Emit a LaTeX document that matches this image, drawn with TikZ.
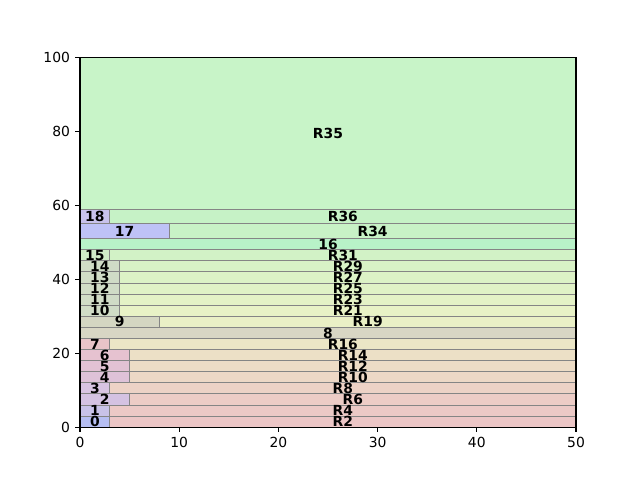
\documentclass[tikz,border=0pt]{standalone}
\usepackage{fontspec}
\setmainfont{DejaVu Sans}
\definecolor{edgec}{HTML}{858585}
\definecolor{Lzero}{HTML}{B6BEF2}
\definecolor{Lone}{HTML}{C8C2E8}
\definecolor{Ltwo}{HTML}{D4C2E2}
\definecolor{Lthree}{HTML}{D8C4E2}
\definecolor{Lfour}{HTML}{DEC2D8}
\definecolor{Lfive}{HTML}{E2C2D4}
\definecolor{Lsix}{HTML}{E6C2D0}
\definecolor{Lseven}{HTML}{E8C4C8}
\definecolor{Leight}{HTML}{D8D6C4}
\definecolor{Lnine}{HTML}{D4D6C2}
\definecolor{Lten}{HTML}{D0DCC6}
\definecolor{Lfifteen}{HTML}{D0ECC8}
\definecolor{Lsixteen}{HTML}{B8F2C8}
\definecolor{Lseventeen}{HTML}{BEC2F6}
\definecolor{Leighteen}{HTML}{C8C2EC}
\definecolor{Rtwo}{HTML}{ECC6C6}
\definecolor{Rfour}{HTML}{ECC9C6}
\definecolor{Rsix}{HTML}{EDCCC6}
\definecolor{Reight}{HTML}{EDD2C6}
\definecolor{Rten}{HTML}{EDD8C6}
\definecolor{Rtwelve}{HTML}{EDDCC6}
\definecolor{Rfourteen}{HTML}{ECE0C6}
\definecolor{Rsixteen}{HTML}{EBE6C6}
\definecolor{Rnineteen}{HTML}{EAF0C6}
\definecolor{Rtwentyone}{HTML}{E8F2C6}
\definecolor{Rtwentythree}{HTML}{E4F2C6}
\definecolor{Rtwentyfive}{HTML}{E0F2C6}
\definecolor{Rtwentyseven}{HTML}{DCF2C6}
\definecolor{Rtwentynine}{HTML}{D8F2C6}
\definecolor{Rthirtyone}{HTML}{D2F2C6}
\definecolor{Rthirtyfour}{HTML}{C8F2C6}
\definecolor{Rthirtysix}{HTML}{C6F2C6}
\definecolor{Rthirtyfive}{HTML}{C8F4C8}
\tikzset{
  box/.style={draw=edgec,line width=0.75pt},
  lab/.style={font=\fontsize{10}{12}\selectfont\bfseries,inner sep=0pt},
  ticklab/.style={font=\fontsize{10}{12}\selectfont,inner sep=0pt},
}
\begin{document}
\begin{tikzpicture}[x=1pt,y=1pt]
\useasboundingbox (0,0) rectangle (460.8,345.6);
\begin{scope}[shift={(57.6,38.016)},x=7.1424pt,y=2.66112pt]
\foreach \a/\b/\c/\d/\col/\t in {
 0/0/3/3/Lzero/0, 3/0/50/3/Rtwo/R2,
 0/3/3/6/Lone/1, 3/3/50/6/Rfour/R4,
 0/6/5/9/Ltwo/2, 5/6/50/9/Rsix/R6,
 0/9/3/12/Lthree/3, 3/9/50/12/Reight/R8,
 0/12/5/15/Lfour/4, 5/12/50/15/Rten/R10,
 0/15/5/18/Lfive/5, 5/15/50/18/Rtwelve/R12,
 0/18/5/21/Lsix/6, 5/18/50/21/Rfourteen/R14,
 0/21/3/24/Lseven/7, 3/21/50/24/Rsixteen/R16,
 0/24/50/27/Leight/8,
 0/27/8/30/Lnine/9, 8/27/50/30/Rnineteen/R19,
 0/30/4/33/Lten/10, 4/30/50/33/Rtwentyone/R21,
 0/33/4/36/Lten/11, 4/33/50/36/Rtwentythree/R23,
 0/36/4/39/Lten/12, 4/36/50/39/Rtwentyfive/R25,
 0/39/4/42/Lten/13, 4/39/50/42/Rtwentyseven/R27,
 0/42/4/45/Lten/14, 4/42/50/45/Rtwentynine/R29,
 0/45/3/48/Lfifteen/15, 3/45/50/48/Rthirtyone/R31,
 0/48/50/51/Lsixteen/16,
 0/51/9/55/Lseventeen/17, 9/51/50/55/Rthirtyfour/R34,
 0/55/3/59/Leighteen/18, 3/55/50/59/Rthirtysix/R36,
 0/59/50/100/Rthirtyfive/R35}
 {\path[box,fill=\col] (\a,\b) rectangle (\c,\d);}
\foreach \a/\b/\c/\d/\t in {
 0/0/3/3/0, 3/0/50/3/R2, 0/3/3/6/1, 3/3/50/6/R4,
 0/6/5/9/2, 5/6/50/9/R6, 0/9/3/12/3, 3/9/50/12/R8,
 0/12/5/15/4, 5/12/50/15/R10, 0/15/5/18/5, 5/15/50/18/R12,
 0/18/5/21/6, 5/18/50/21/R14, 0/21/3/24/7, 3/21/50/24/R16,
 0/24/50/27/8, 0/27/8/30/9, 8/27/50/30/R19,
 0/30/4/33/10, 4/30/50/33/R21, 0/33/4/36/11, 4/33/50/36/R23,
 0/36/4/39/12, 4/36/50/39/R25, 0/39/4/42/13, 4/39/50/42/R27,
 0/42/4/45/14, 4/42/50/45/R29, 0/45/3/48/15, 3/45/50/48/R31,
 0/48/50/51/16, 0/51/9/55/17, 9/51/50/55/R34,
 0/55/3/59/18, 3/55/50/59/R36, 0/59/50/100/R35}
 {\node[lab] (l\t) at ({(\a+\c)/2},{(\b+\d)/2}) {\t};}
\draw[line width=0.8pt] (0,0) rectangle (50,100);
\foreach \v in {0,10,20,30,40,50}
 {\draw[line width=0.8pt] (\v,0) -- ++(0,-3.5pt);
  \node[ticklab,anchor=north] (xt\v) at ([yshift=-7pt]\v,0) {\v};}
\foreach \v in {0,20,40,60,80,100}
 {\draw[line width=0.8pt] (0,\v) -- ++(-3.5pt,0);
  \node[ticklab,anchor=east] (yt\v) at ([xshift=-7pt]0,\v) {\v};}
\end{scope}
\end{tikzpicture}
\end{document}
